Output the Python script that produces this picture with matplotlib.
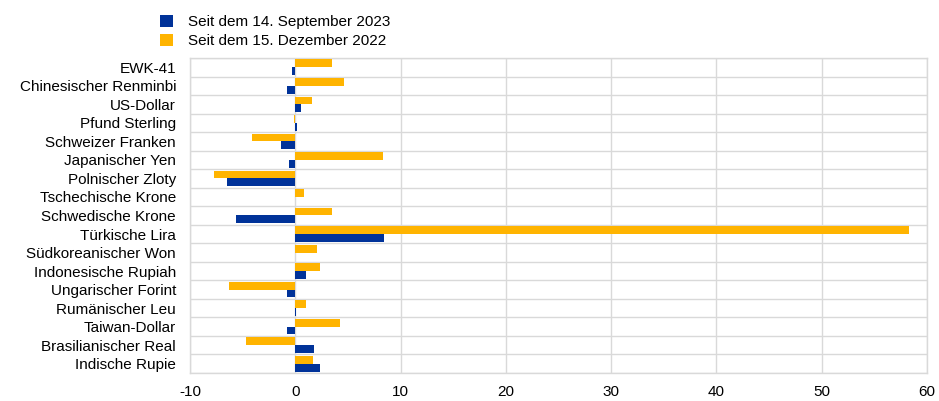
import matplotlib
matplotlib.use("Agg")
import matplotlib.pyplot as plt
import numpy as np

categories = ["EWK-41", "Chinesischer Renminbi", "US-Dollar", "Pfund Sterling",
              "Schweizer Franken", "Japanischer Yen", "Polnischer Zloty",
              "Tschechische Krone", "Schwedische Krone", "Türkische Lira",
              "Südkoreanischer Won", "Indonesische Rupiah", "Ungarischer Forint",
              "Rumänischer Leu", "Taiwan-Dollar", "Brasilianischer Real", "Indische Rupie"]
since_sep_2023 = [-0.3, -0.8, 0.5, 0.12, -1.4, -0.6, -6.5, 0.0, -5.6, 8.4,
                  0.0, 1.0, -0.8, 0.1, -0.75, 1.8, 2.35]
since_dec_2022 = [3.5, 4.6, 1.55, -0.1, -4.15, 8.3, -7.75, 0.83, 3.5, 58.3,
                  2.06, 2.3, -6.3, 1.05, 4.2, -4.7, 1.65]
xticks = [-10, 0, 10, 20, 30, 40, 50, 60]

blue = "#003299"
orange = "#FFB400"
grid = "#D9D9D9"

plt.rcParams['font.family'] = ['Liberation Sans', 'DejaVu Sans']
fs = 11

fig = plt.figure(figsize=(9.39, 4.01), dpi=100)
ax = fig.add_axes([190/939, 1-373/401, (927-190)/939, (373-58)/401])

n = len(categories)
y = np.arange(n)
h = 0.42
ax.barh(y - h/2, since_dec_2022, height=h, color=orange, label="Seit dem 15. Dezember 2022", zorder=3)
ax.barh(y + h/2, since_sep_2023, height=h, color=blue, label="Seit dem 14. September 2023", zorder=3)

ax.set_ylim(n - 0.5, -0.5)
ax.set_xlim(-10, 60)
ax.set_xticks(xticks)
ax.set_xticklabels([str(t) for t in xticks], fontsize=fs)
ax.set_yticks(y)
ax.set_yticklabels(categories, fontsize=fs)
ax.set_yticks(np.arange(-0.5, n, 1), minor=True)
ax.tick_params(axis='both', which='both', length=0)
ax.tick_params(axis='x', pad=9)
ax.tick_params(axis='y', pad=10)
ax.grid(axis='x', which='major', color=grid, linewidth=1, zorder=0)
ax.grid(axis='y', which='minor', color=grid, linewidth=1, zorder=0)
for s in ax.spines.values():
    s.set_color(grid)
    s.set_linewidth(1)

handles, labels = ax.get_legend_handles_labels()
leg = fig.legend(handles[::-1], labels[::-1], loc='upper left', bbox_to_anchor=(160/939, 1-15/401),
                 frameon=False, fontsize=fs, handlelength=0.85, handleheight=0.85,
                 handletextpad=1.0, labelspacing=0.3, borderpad=0, borderaxespad=0)

fig.savefig("out.png", dpi=100)
